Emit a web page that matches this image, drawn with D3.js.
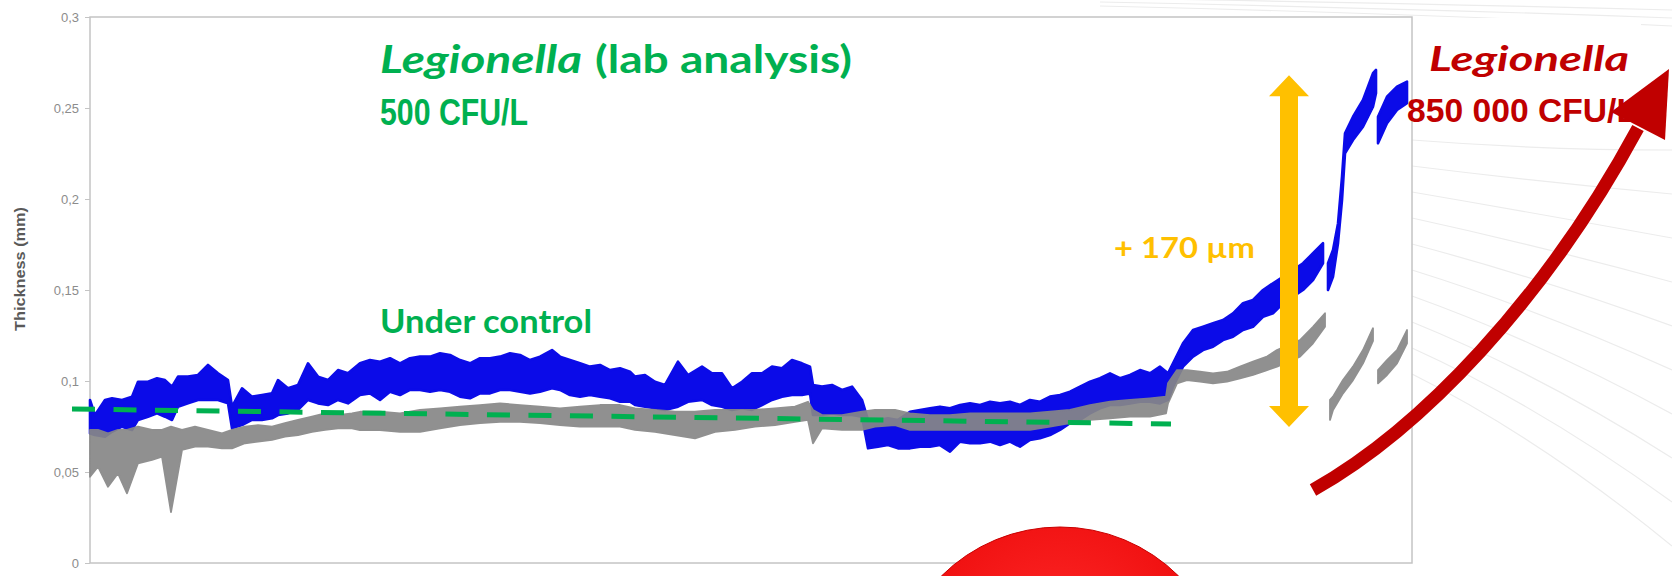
<!DOCTYPE html>
<html>
<head>
<meta charset="utf-8">
<script src="https://cdn.jsdelivr.net/npm/d3@7"></script>
<style>
  html, body { margin: 0; padding: 0; background: #fff; }
  svg { display: block; }
</style>
</head>
<body>
<svg id="chart" width="1672" height="576"></svg>
<script>
// hours since start of the run, thickness in mm
const blueT = [0,5,15,22,32,42,48,58,67,75,82,88,98,108,118,128,138,142,152,162,172,182,188,198,208,218,228,238,248,258,
    270,280,290,300,310,320,330,340,350,360,370,380,390,400,410,420,430,440,450,462,470,480,490,500,510,520,530,540,
    545,555,565,575,588,598,612,622,632,642,652,662,672,682,692,702,712,720,723,732,742,752,762,772,778,788,798,808,
    820,830,840,850,860,870,880,890,900,910,920,930,940,950,960,970,980,990,1000,1010,1020,1030,1040,1050,1060,1070,1078,
    1083,1093,1103,1113,1123,1133,1143,1153,1163,1173,1183,1193,1203,1213,1223,1233,1235,
    1238,1243,1248,1252,1255,1263,1273,1283,1286,1287,
    1288,1297,1307,1317];
const blueHi = [0.0896,0.0813,0.0896,0.0905,0.0896,0.0914,0.0996,0.0996,0.1015,0.1005,0.0969,0.1024,0.1024,0.1033,0.1088,0.1042,0.1005,0.0859,0.0960,0.0914,0.0923,0.0932,0.1005,0.0960,0.0978,0.1097,0.1024,0.1005,0.1060,0.1042,
    0.1097,0.1115,0.1106,0.1125,0.1097,0.1125,0.1134,0.1134,0.1152,0.1143,0.1115,0.1097,0.1125,0.1125,0.1134,0.1152,0.1143,0.1115,0.1134,0.1170,0.1134,0.1115,0.1097,0.1079,0.1088,0.1060,0.1070,0.1051,
    0.1024,0.1033,0.0996,0.0978,0.1106,0.1033,0.1079,0.1042,0.1042,0.0960,0.0996,0.1042,0.1042,0.1079,0.1070,0.1115,0.1097,0.1079,0.0978,0.0969,0.0978,0.0951,0.0969,0.0896,0.0786,0.0786,0.0795,0.0786,
    0.0831,0.0841,0.0850,0.0859,0.0850,0.0868,0.0877,0.0868,0.0886,0.0877,0.0886,0.0868,0.0896,0.0886,0.0914,0.0923,0.0941,0.0969,0.0996,0.1015,0.1042,0.1015,0.1033,0.1060,0.1042,0.1079,0.1042,
    0.1097,0.1207,0.1280,0.1298,0.1317,0.1335,0.1372,0.1427,0.1445,0.1500,0.1537,0.1573,0.1610,0.1647,0.1702,0.1757,null,
    0.1647,0.1720,0.1866,0.2122,0.2361,0.2452,0.2544,0.2691,0.2709,null,
    0.2452,0.2562,0.2617,0.2645];
const blueLo = [0.0712,0.0703,0.0694,0.0721,0.0749,0.0731,0.0786,0.0804,0.0822,0.0804,0.0786,0.0859,0.0877,0.0896,0.0896,0.0896,0.0877,0.0740,0.0758,0.0786,0.0786,0.0795,0.0813,0.0822,0.0841,0.0896,0.0877,0.0868,0.0896,0.0877,
    0.0923,0.0932,0.0896,0.0941,0.0923,0.0951,0.0951,0.0941,0.0951,0.0941,0.0914,0.0905,0.0932,0.0932,0.0951,0.0951,0.0941,0.0932,0.0941,0.0960,0.0951,0.0923,0.0914,0.0923,0.0914,0.0905,0.0886,0.0886,
    0.0868,0.0859,0.0850,0.0841,0.0859,0.0886,0.0896,0.0868,0.0859,0.0841,0.0850,0.0841,0.0868,0.0896,0.0914,0.0923,0.0923,0.0932,0.0813,0.0813,0.0822,0.0813,0.0813,0.0804,0.0630,0.0639,0.0648,0.0630,
    0.0630,0.0639,0.0639,0.0648,0.0612,0.0667,0.0658,0.0658,0.0667,0.0648,0.0667,0.0639,0.0676,0.0685,0.0703,0.0731,0.0768,0.0786,0.0822,0.0850,0.0868,0.0868,0.0877,0.0886,0.0886,0.0877,0.0896,
    0.0969,0.1079,0.1134,0.1170,0.1188,0.1225,0.1243,0.1280,0.1298,0.1353,0.1372,0.1427,0.1463,0.1500,0.1555,0.1647,null,
    0.1500,0.1573,0.1757,0.1994,0.2251,0.2324,0.2397,0.2507,0.2581,null,
    0.2306,0.2416,0.2489,0.2526];

const grayT = [0,8,18,28,37,48,62,72,81,92,105,118,132,142,155,168,182,195,208,222,235,248,262,
    270,290,310,330,350,370,390,410,430,450,470,490,510,530,
    545,565,585,605,625,645,665,685,705,718,723,732,752,772,785,805,
    820,840,860,880,900,920,940,960,980,1000,1020,1040,1060,1076,1078,
    1087,1097,1110,1123,1137,1150,1163,1177,1187,1210,1223,1235,1237,
    1240,1243,1253,1263,1273,1283,1285,
    1288,1297,1307,1317];
const grayHi = [0.0731,0.0731,0.0712,0.0731,0.0731,0.0749,0.0731,0.0731,0.0749,0.0731,0.0749,0.0731,0.0712,0.0731,0.0749,0.0758,0.0749,0.0768,0.0786,0.0804,0.0822,0.0813,0.0822,
    0.0831,0.0831,0.0822,0.0841,0.0850,0.0859,0.0868,0.0877,0.0868,0.0859,0.0850,0.0859,0.0868,0.0868,
    0.0850,0.0841,0.0831,0.0831,0.0841,0.0841,0.0841,0.0850,0.0859,0.0886,0.0841,0.0813,0.0813,0.0831,0.0841,0.0841,
    0.0822,0.0813,0.0813,0.0822,0.0822,0.0822,0.0822,0.0831,0.0841,0.0868,0.0886,0.0896,0.0905,0.0914,0.0987,
    0.1060,0.1060,0.1051,0.1042,0.1051,0.1079,0.1106,0.1134,0.1170,0.1225,0.1298,0.1372,null,
    0.0896,0.0914,0.1005,0.1079,0.1170,0.1290,null,
    0.1060,0.1115,0.1170,0.1280];
const grayLo = [0.0474,0.0529,0.0419,0.0493,0.0383,0.0548,0.0566,0.0584,0.0280,0.0621,0.0639,0.0639,0.0630,0.0630,0.0658,0.0667,0.0676,0.0694,0.0703,0.0721,0.0731,0.0740,0.0740,
    0.0730,0.0730,0.0721,0.0721,0.0740,0.0758,0.0768,0.0776,0.0776,0.0768,0.0758,0.0749,0.0749,0.0749,
    0.0731,0.0721,0.0703,0.0685,0.0721,0.0731,0.0749,0.0758,0.0776,0.0786,0.0658,0.0740,0.0731,0.0731,0.0749,0.0758,
    0.0731,0.0731,0.0731,0.0731,0.0731,0.0731,0.0731,0.0749,0.0768,0.0786,0.0795,0.0804,0.0804,0.0822,0.0877,
    0.0987,0.1005,0.0996,0.0987,0.0996,0.1015,0.1033,0.1060,0.1079,0.1134,0.1207,0.1298,null,
    0.0786,0.0841,0.0932,0.1005,0.1097,0.1220,null,
    0.0987,0.1033,0.1097,0.1207];

// "under control" level
const controlT = [-18, 1081];
const controlV = [0.0846, 0.0764];

// +170 µm jump
const jumpT = 1199;
const jumpV = [0.0747, 0.268];

const yTicks = [0, 0.05, 0.1, 0.15, 0.2, 0.25, 0.3];
const yTickLabels = ["0", "0,05", "0,1", "0,15", "0,2", "0,25", "0,3"];

const GREEN = "#00B050", RED = "#C00000", ORANGE = "#FFC000";

function bandPreparation(ts, hi, lo) {
    return ts.map((t, i) => ({"t": t, "hi": hi[i], "lo": lo[i]}));
}

function chartDrawing(id) {
    const svg = d3.select(id);

    const x = d3.scaleLinear().domain([0, 1322]).range([90, 1412]);
    const y = d3.scaleLinear().domain([0, 0.3]).range([563, 17]);

    const defs = svg.append("defs");
    const grad = defs.append("radialGradient").attr("id", "ball")
        .attr("cx", "50%").attr("cy", "35%").attr("r", "60%");
    grad.append("stop").attr("offset", "0%").attr("stop-color", "#ff2a2a");
    grad.append("stop").attr("offset", "70%").attr("stop-color", "#f01010");
    grad.append("stop").attr("offset", "100%").attr("stop-color", "#d40000");

    // slide background lines
    const bg = svg.append("g").attr("fill", "none").attr("stroke", "#ececec").attr("stroke-width", 1.2);
    d3.range(10).forEach(i => {
        bg.append("path").attr("d", `M1412,${140 + i * 26} Q1540,${150 + i * 32} 1672,${150 + i * 44}`);
    });
    d3.range(3).forEach(i => {
        bg.append("path").attr("d", `M1100,${-2 + i * 4} Q1400,${3 + i * 5} 1672,${10 + i * 8}`);
    });
    svg.append("rect").attr("x", 1413).attr("y", 18).attr("width", 228).attr("height", 112).attr("fill", "#fff");

    // frame
    svg.append("rect")
        .attr("x", x(0)).attr("y", y(0.3))
        .attr("width", x(1322) - x(0)).attr("height", y(0) - y(0.3))
        .attr("fill", "#fff").attr("stroke", "#c4c4c4").attr("stroke-width", 1.5);

    const yAxis = svg.append("g")
        .attr("transform", `translate(${x(0)},0)`)
        .call(d3.axisLeft(y).tickValues(yTicks).tickSize(5).tickPadding(6)
            .tickFormat((d, i) => yTickLabels[i]));
    yAxis.select(".domain").remove();
    yAxis.selectAll(".tick line").attr("stroke", "#c4c4c4");
    yAxis.selectAll(".tick text")
        .attr("fill", "#8c8c8c")
        .style("font", "13px 'Liberation Sans', Arial, sans-serif");

    svg.append("text")
        .attr("transform", "translate(25,269) rotate(-90)")
        .attr("text-anchor", "middle")
        .attr("fill", "#595959")
        .attr("textLength", 124).attr("lengthAdjust", "spacingAndGlyphs")
        .style("font", "bold 14px 'Liberation Sans', Arial, sans-serif")
        .text("Thickness (mm)");

    const area = d3.area()
        .defined(d => d.hi !== null)
        .x(d => x(d.t))
        .y0(d => y(d.lo))
        .y1(d => y(d.hi));

    svg.append("path")
        .datum(bandPreparation(blueT, blueHi, blueLo))
        .attr("d", area)
        .attr("fill", "#0b0be8").attr("stroke", "#0b0be8").attr("stroke-width", 2.6)
        .attr("stroke-linejoin", "round");

    svg.append("path")
        .datum(bandPreparation(grayT, grayHi, grayLo))
        .attr("d", area)
        .attr("fill", "#878787").attr("stroke", "#878787").attr("stroke-width", 1.8)
        .attr("stroke-linejoin", "round")
        .attr("opacity", 0.92);

    svg.append("path")
        .datum(controlT.map((t, i) => [t, controlV[i]]))
        .attr("d", d3.line().x(d => x(d[0])).y(d => y(d[1])))
        .attr("stroke", GREEN).attr("stroke-width", 5)
        .attr("stroke-dasharray", "23,18.5").attr("fill", "none");

    // orange double arrow
    const ax = x(jumpT), top = y(jumpV[1]), bot = y(jumpV[0]);
    const sw = 9, hw = 20, hl = 21;
    svg.append("path")
        .attr("d", `M${ax},${top} L${ax + hw},${top + hl} L${ax + sw},${top + hl} L${ax + sw},${bot - hl}
            L${ax + hw},${bot - hl} L${ax},${bot} L${ax - hw},${bot - hl} L${ax - sw},${bot - hl}
            L${ax - sw},${top + hl} L${ax - hw},${top + hl} Z`)
        .attr("fill", ORANGE);

    // red ball
    svg.append("circle").attr("cx", 1060).attr("cy", 695).attr("r", 168)
        .attr("fill", "url(#ball)").attr("stroke", "#c80000").attr("stroke-width", 1);

    // red curved arrow
    svg.append("path")
        .attr("d", "M1313,490 C1420,430 1545,300 1638,128")
        .attr("fill", "none").attr("stroke", RED).attr("stroke-width", 13);
    svg.append("path")
        .attr("d", "M1611,112 L1669,69 L1665,140 Z")
        .attr("fill", RED);

    const label = (tx, ty, str, font, color, len) => svg.append("text")
        .attr("x", tx).attr("y", ty).attr("fill", color)
        .attr("textLength", len).attr("lengthAdjust", "spacingAndGlyphs")
        .style("font", font).text(str);

    const lato = "Lato, 'Open Sans', sans-serif";
    const narrow = "'Liberation Sans Narrow', 'Liberation Sans', Arial, sans-serif";
    label(380, 73, "Legionella", `italic bold 39px ${lato}`, GREEN, 202);
    label(595, 73, "(lab analysis)", `bold 39px ${lato}`, GREEN, 257);
    label(380, 125, "500 CFU/L", `bold 37px ${narrow}`, GREEN, 148);
    label(380, 333, "Under control", `bold 32px ${lato}`, GREEN, 212);
    label(1114, 258, "+ 170 µm", `bold 28px ${lato}`, ORANGE, 141);
    label(1429, 71, "Legionella", `italic bold 34px ${lato}`, RED, 200);
    label(1407, 122, "850 000 CFU/L", `bold 33px ${narrow}`, RED, 230);
}

chartDrawing("#chart");
</script>
</body>
</html>
